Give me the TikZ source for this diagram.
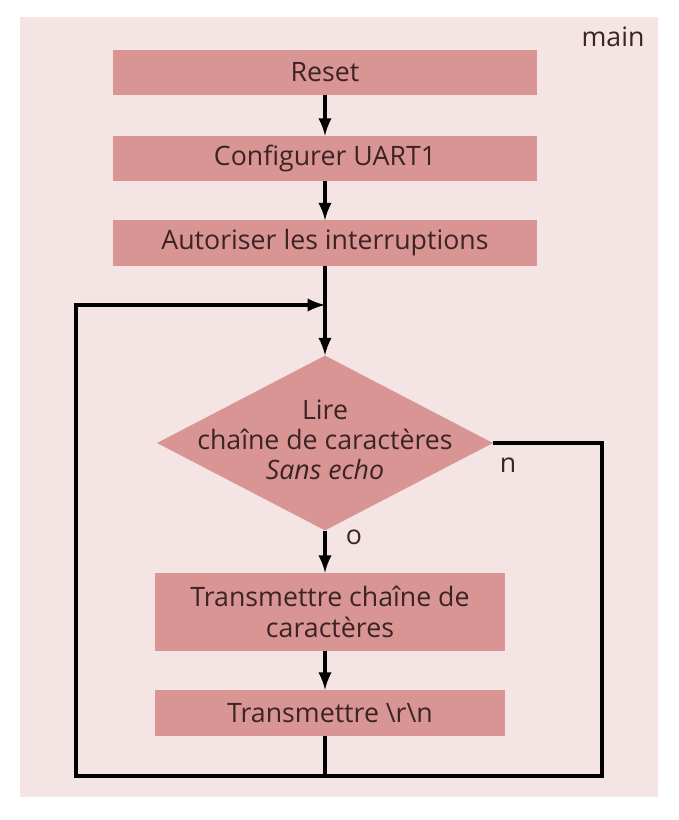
\documentclass[tikz,border=0pt]{standalone}
\usepackage{fontspec}
\setmainfont{Open Sans}
\usepackage{tikz}
\usetikzlibrary{shapes.geometric}
\tikzset{>=latex}
\definecolor{fond}{HTML}{F5E4E4}
\definecolor{boite}{HTML}{D99594}
\definecolor{texte}{HTML}{3B2424}
\tikzset{
  etape/.style={fill=boite, text=texte, minimum width=10.6cm, minimum height=1.125cm,
                font=\fontsize{19}{21.5}\selectfont, align=center},
  etapebas/.style={etape, minimum width=8.75cm},
  decision/.style={diamond, fill=boite, minimum width=8.4cm, minimum height=4.375cm, inner sep=0pt},
  lien/.style={line width=3.2pt, draw=black, >={latex[scale=1.1]}},
  etiq/.style={text=texte, font=\fontsize{19}{21.5}\selectfont}
}

\begin{document}
\begin{tikzpicture}[x=0.025cm, y=-0.025cm]
  \useasboundingbox (0,0) rectangle (678,820);
  \fill[fond] (20,17) rectangle (658,797); % cadre de la fonction
  \node[etiq] (titre) at (613,37) {main};

  % etapes
  \node[etape] (reset) at (325,72.5) {Reset};
  \node[etape] (uart) at (325,158.5) {Configurer UART1};
  \node[etape] (inter) at (325,243) {Autoriser les interruptions};
  \node[decision] (lire) at (325,443) {};
  \node[etiq, align=center] (liretxt) at (325,440)
       {Lire\\cha\^ine de caract\`eres\\\textit{Sans echo}};
  \node[etapebas, minimum height=1.95cm] (trans) at (330,612)
       {Transmettre cha\^ine de\\caract\`eres};
  \node[etapebas, minimum height=1.15cm] (rn) at (330,713) {Transmettre \textbackslash r\textbackslash n};

  % points de la boucle
  \coordinate (jn) at (325,305);
  \coordinate (bas) at (325,776);
  \coordinate (droite) at (602,776);
  \coordinate (gauche) at (76,776);

  \draw[lien, ->] (reset) -- (uart);
  \draw[lien, ->] (uart) -- (inter);
  \draw[lien, ->] (inter) -- (lire.north);
  \draw[lien, ->] (lire.south) -- (trans.north -| lire.south);
  \draw[lien, ->] (trans.south -| lire.south) -- (rn.north -| lire.south);
  \draw[lien] (rn.south -| lire.south) -- (bas);
  \draw[lien, ->] (lire.east) -| (droite) -- (gauche) |- (jn); % retour
  \node[etiq] (non) at (508,465) {n};
  \node[etiq] (oui) at (354,537) {o};
\end{tikzpicture}
\end{document}
